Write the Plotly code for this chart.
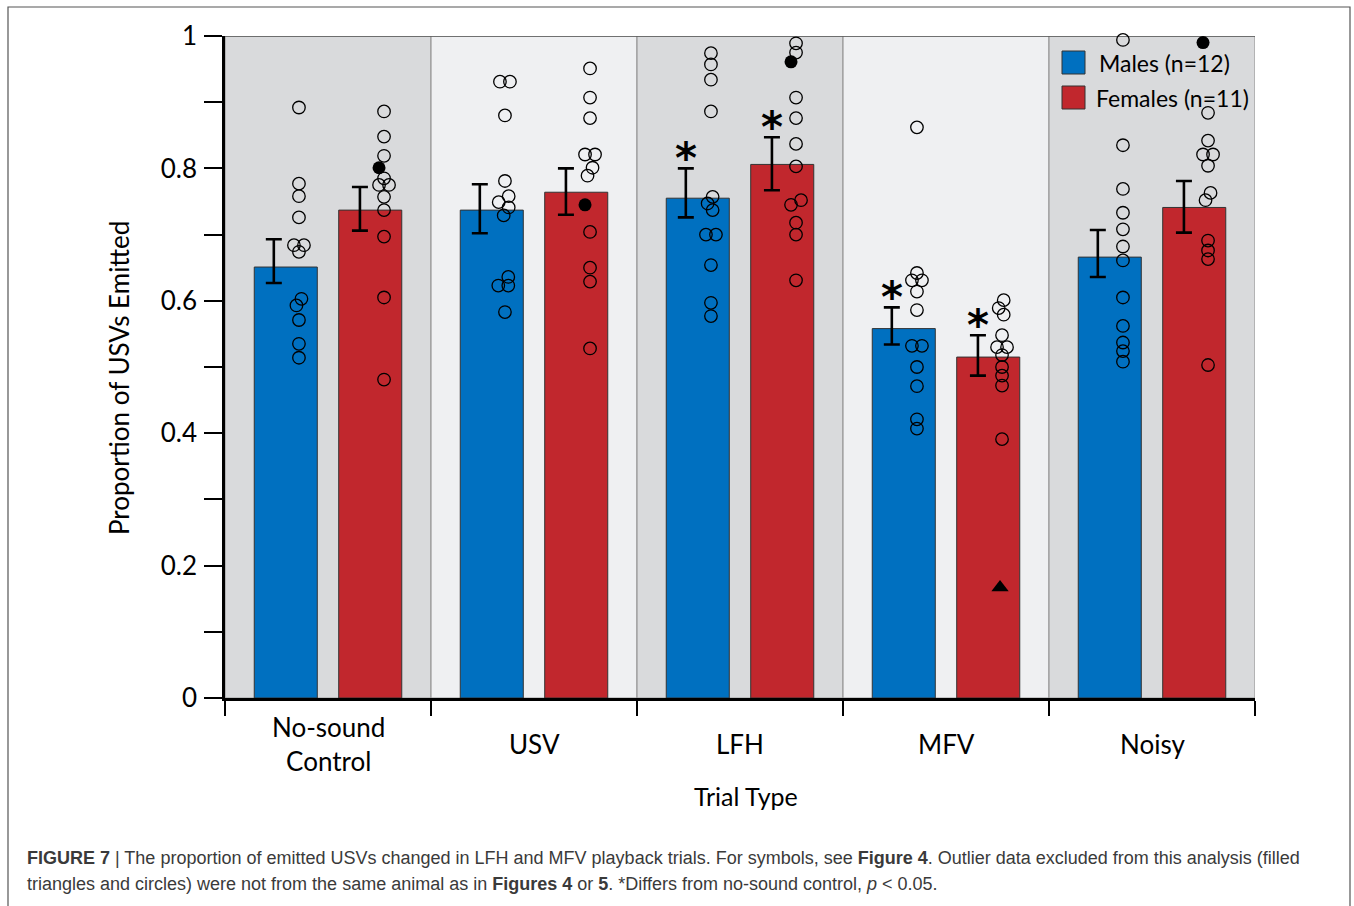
import math
import plotly.graph_objects as go

# ---- data -------------------------------------------------------------
categories = ["No-sound<br>Control", "USV", "LFH", "MFV", "Noisy"]

male_mean = [0.651, 0.737, 0.755, 0.558, 0.666]
male_err_top = [0.693, 0.776, 0.800, 0.590, 0.707]
male_err_bottom = [0.627, 0.702, 0.726, 0.534, 0.636]

female_mean = [0.737, 0.764, 0.806, 0.515, 0.741]
female_err_top = [0.772, 0.800, 0.847, 0.548, 0.781]
female_err_bottom = [0.706, 0.730, 0.767, 0.487, 0.703]

male_points = [
    [0.892, 0.777, 0.758, 0.726, 0.684, 0.684, 0.674, 0.603, 0.593, 0.571, 0.535, 0.514],
    [0.931, 0.931, 0.880, 0.781, 0.758, 0.749, 0.741, 0.729, 0.636, 0.623, 0.623, 0.583],
    [0.974, 0.957, 0.934, 0.886, 0.757, 0.747, 0.737, 0.700, 0.700, 0.654, 0.597, 0.577],
    [0.862, 0.642, 0.631, 0.631, 0.614, 0.586, 0.532, 0.532, 0.500, 0.471, 0.421, 0.407],
    [0.994, 0.835, 0.769, 0.733, 0.708, 0.682, 0.661, 0.605, 0.562, 0.537, 0.524, 0.508],
]
female_points = [
    [0.886, 0.848, 0.819, 0.785, 0.775, 0.775, 0.757, 0.737, 0.697, 0.605, 0.481],
    [0.951, 0.907, 0.876, 0.821, 0.821, 0.801, 0.789, 0.704, 0.650, 0.629, 0.528],
    [0.989, 0.975, 0.907, 0.876, 0.837, 0.803, 0.752, 0.745, 0.718, 0.700, 0.631],
    [0.601, 0.589, 0.579, 0.548, 0.530, 0.530, 0.518, 0.500, 0.487, 0.472, 0.391],
    [0.884, 0.842, 0.821, 0.821, 0.804, 0.763, 0.752, 0.691, 0.676, 0.663, 0.503],
]

# excluded outliers (females): filled circles and one filled triangle
female_outlier_circles = [0.801, 0.745, 0.961, None, 0.990]
female_outlier_triangles = [None, None, None, 0.167, None]

# differs from no-sound control
male_sig = [False, False, True, True, False]
female_sig = [False, False, True, True, False]

# ---- layout geometry --------------------------------------------------
W, H = 1354, 906
PL, PR, PT, PB = 225, 1255, 36, 698          # plot area in pixels
XPX = (PR - PL) / 5.0                         # pixels per category
YPX = (PB - PT) / 1.0                         # pixels per unit


def paper_x(xp):
    return (xp - PL) / (PR - PL)


def paper_y(yp):
    return (PB - yp) / (PB - PT)


BLUE = "#0070C0"
RED = "#C1272D"
BAND_DARK = "#D9DADC"
BAND_LIGHT = "#EFF0F2"
FONT = "Lato"

BAR_W = 0.306
BAR_OFF = {"m": -0.205, "f": 0.205}
DOT_OFF = {"m": -0.141, "f": 0.272}
ERR_OFF = {"m": -0.263, "f": 0.155}


def swarm(values, fixed=()):
    """Horizontal pixel offsets so that open circles do not pile up."""
    step, dmin = 5.0, 8.0
    cands = [0.0]
    for k in range(1, 5):
        cands += [-k * step, k * step]
    placed = [(0.0, v * YPX) for v in fixed if v is not None]
    out = []
    for v in values:
        y = v * YPX
        for c in cands:
            if all(math.hypot(c - px, y - pyy) >= dmin for px, pyy in placed):
                break
        placed.append((c, y))
        out.append(c)
    # recentre each chain of touching circles
    order = sorted(range(len(values)), key=lambda i: -values[i])
    groups, cur = [], [order[0]]
    for a, b in zip(order, order[1:]):
        if (values[a] - values[b]) * YPX < 9.0:
            cur.append(b)
        else:
            groups.append(cur)
            cur = [b]
    groups.append(cur)
    for g in groups:
        if len(g) > 1:
            m = sum(out[i] for i in g) / len(g)
            for i in g:
                out[i] -= m
    return out


fig = go.Figure()

# bars
for key, mean, color, name in [("m", male_mean, BLUE, "Males (n=12)"),
                                ("f", female_mean, RED, "Females (n=11)")]:
    fig.add_trace(go.Bar(
        x=list(range(len(categories))), y=mean, name=name,
        width=BAR_W, offset=BAR_OFF[key] - BAR_W / 2,
        marker=dict(color=color, line=dict(color="#333333", width=1)),
        showlegend=False, hoverinfo="skip"))

# error bars
for key, mean, top, bot in [("m", male_mean, male_err_top, male_err_bottom),
                            ("f", female_mean, female_err_top, female_err_bottom)]:
    fig.add_trace(go.Scatter(
        x=[i + ERR_OFF[key] for i in range(len(categories))], y=mean,
        mode="markers", marker=dict(size=1, color="rgba(0,0,0,0)"),
        error_y=dict(type="data", symmetric=False,
                     array=[t - m for t, m in zip(top, mean)],
                     arrayminus=[m - b for m, b in zip(mean, bot)],
                     color="black", thickness=2.6, width=8),
        showlegend=False, hoverinfo="skip"))

# individual animals
for key, pts, outl in [("m", male_points, [None] * 5),
                       ("f", female_points, female_outlier_circles)]:
    xs, ys = [], []
    for i, vals in enumerate(pts):
        offs = swarm(vals, fixed=[outl[i]])
        for v, o in zip(vals, offs):
            xs.append(i + DOT_OFF[key] + o / XPX)
            ys.append(v)
    fig.add_trace(go.Scatter(
        x=xs, y=ys, mode="markers", cliponaxis=False,
        marker=dict(symbol="circle-open", size=12.5, color="black",
                    line=dict(width=1.3)),
        showlegend=False, hoverinfo="skip"))

# excluded outliers
ox = [i + DOT_OFF["f"] - 5 / XPX for i, v in enumerate(female_outlier_circles) if v is not None]
oy = [v for v in female_outlier_circles if v is not None]
fig.add_trace(go.Scatter(x=ox, y=oy, mode="markers", cliponaxis=False,
                         marker=dict(symbol="circle", size=13, color="black"),
                         showlegend=False, hoverinfo="skip"))
tx = [i + DOT_OFF["f"] - 2 / XPX for i, v in enumerate(female_outlier_triangles) if v is not None]
ty = [v for v in female_outlier_triangles if v is not None]
fig.add_trace(go.Scatter(x=tx, y=ty, mode="markers", cliponaxis=False,
                         marker=dict(symbol="triangle-up", size=15, color="black"),
                         showlegend=False, hoverinfo="skip"))

shapes = []
# alternating background bands
for i in range(len(categories)):
    shapes.append(dict(type="rect", xref="x", yref="y", x0=i - 0.5, x1=i + 0.5,
                       y0=0, y1=1, layer="below",
                       fillcolor=BAND_DARK if i % 2 == 0 else BAND_LIGHT,
                       line=dict(color="#9A9A9A", width=1.2)))
shapes.append(dict(type="line", xref="x", yref="y", x0=-0.5, x1=4.5, y0=1, y1=1,
                   layer="below", line=dict(color="#555555", width=1.6)))
# outer frame
shapes.append(dict(type="rect", xref="paper", yref="paper",
                   x0=paper_x(8), x1=paper_x(1350), y0=paper_y(920), y1=paper_y(7),
                   line=dict(color="#555555", width=1.2), fillcolor="rgba(0,0,0,0)"))
# legend swatches
for y0, color in [(51, BLUE), (86, RED)]:
    shapes.append(dict(type="rect", xref="paper", yref="paper",
                       x0=paper_x(1062), x1=paper_x(1085),
                       y0=paper_y(y0 + 23), y1=paper_y(y0),
                       fillcolor=color, line=dict(color="#333333", width=1)))

annotations = []
# legend labels
annotations.append(dict(text="Males (n=12)", x=paper_x(1097), y=paper_y(63),
                        xref="paper", yref="paper", xanchor="left", yanchor="middle",
                        showarrow=False, font=dict(family=FONT, size=23, color="black")))
annotations.append(dict(text="Females (n=11)", x=paper_x(1094), y=paper_y(98),
                        xref="paper", yref="paper", xanchor="left", yanchor="middle",
                        showarrow=False, font=dict(family=FONT, size=23, color="black")))
# category labels
for i, c in enumerate(categories):
    annotations.append(dict(text=c, x=i, y=paper_y(744), xref="x", yref="paper",
                            xanchor="center", yanchor="middle", showarrow=False,
                            font=dict(family=FONT, size=26, color="black")))
# axis titles
annotations.append(dict(text="Trial Type", x=paper_x(746), y=paper_y(796),
                        xref="paper", yref="paper", xanchor="center", yanchor="middle",
                        showarrow=False, font=dict(family=FONT, size=25, color="black")))
annotations.append(dict(text="Proportion of USVs Emitted", x=paper_x(119), y=paper_y(378),
                        xref="paper", yref="paper", xanchor="center", yanchor="middle",
                        textangle=-90, showarrow=False,
                        font=dict(family=FONT, size=26, color="black")))
# significance markers
for key, top, sig in [("m", male_err_top, male_sig), ("f", female_err_top, female_sig)]:
    for i, s in enumerate(sig):
        if s:
            annotations.append(dict(text="<b>*</b>", x=i + ERR_OFF[key], y=top[i],
                                    xref="x", yref="y", xanchor="center",
                                    yanchor="middle", yshift=10, showarrow=False,
                                    font=dict(family="DejaVu Sans", size=42,
                                              color="black")))
# caption
cap1 = ("<b>FIGURE 7</b> | The proportion of emitted USVs changed in LFH and MFV "
        "playback trials. For symbols, see <b>Figure 4</b>. Outlier data excluded "
        "from this analysis (filled")
cap2 = ("triangles and circles) were not from the same animal as in <b>Figures 4</b> "
        "or <b>5</b>. *Differs from no-sound control, <i>p</i> &lt; 0.05.")
for txt, yp in [(cap1, 858), (cap2, 884)]:
    annotations.append(dict(text=txt, x=paper_x(25), y=paper_y(yp),
                            xref="paper", yref="paper", xanchor="left",
                            yanchor="middle", showarrow=False,
                            font=dict(family="Liberation Sans", size=18,
                                      color="#3A3A3A")))

fig.update_layout(
    width=W, height=H,
    margin=dict(l=PL, r=W - PR, t=PT, b=H - PB, autoexpand=False),
    paper_bgcolor="white", plot_bgcolor="white",
    barmode="overlay", showlegend=False,
    shapes=shapes, annotations=annotations,
    xaxis=dict(range=[-0.5, 4.5], tickvals=[i - 0.5 for i in range(6)],
               showticklabels=False, ticks="outside", ticklen=15, tickwidth=2,
               tickcolor="black", showline=True, linecolor="black", linewidth=2.5,
               showgrid=False, zeroline=False),
    yaxis=dict(range=[0, 1], tickvals=[k / 10 for k in range(11)],
               ticktext=["0", "", "0.2", "", "0.4", "", "0.6", "", "0.8", "", "1"],
               ticks="outside", ticklen=18, tickwidth=2, tickcolor="black",
               ticklabelstandoff=2,
               tickfont=dict(family=FONT, size=26, color="black"),
               showline=True, linecolor="black", linewidth=2.5,
               showgrid=False, zeroline=False),
)

fig.write_html("out.html")
